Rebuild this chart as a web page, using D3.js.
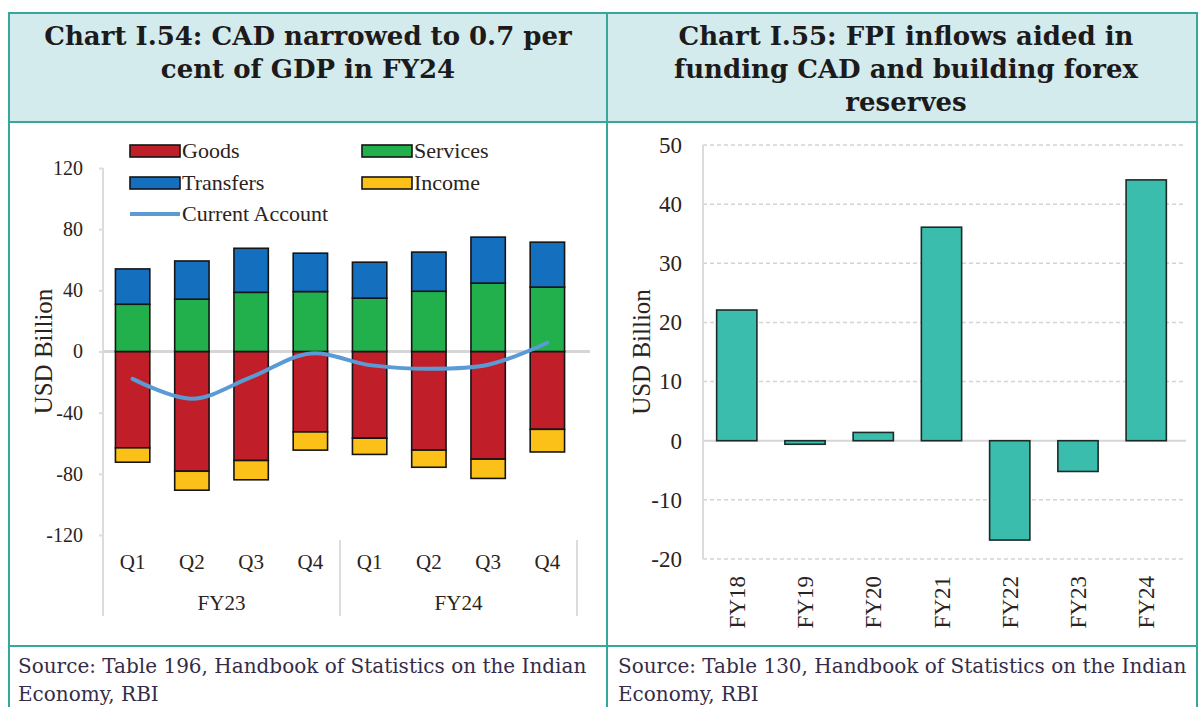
<!DOCTYPE html>
<html>
<head>
<meta charset="utf-8">
<script src="https://cdn.jsdelivr.net/npm/d3@7"></script>
<style>
  html, body { margin: 0; padding: 0; background: #fff; }
  svg { display: block; }
</style>
</head>
<body>
<svg id="chart" width="1198" height="707"></svg>
<script>
// ---- Chart I.54: current account components (USD billion) ----
const years = ["FY23", "FY24"];
const quarters = ["Q1", "Q2", "Q3", "Q4"];
const goods     = [-63.0, -78.3, -71.3, -52.6, -56.7, -64.5, -70.4, -50.9];
const services  = [ 30.9,  34.2,  38.7,  39.2,  34.9,  39.4,  44.7,  42.1];
const transfers = [ 23.1,  25.0,  28.8,  25.1,  23.5,  25.6,  30.1,  29.4];
const income    = [ -9.4, -12.4, -12.6, -11.9, -10.6, -11.2, -12.6, -14.8];
const currentAccount = [-17.9, -30.9, -16.8, -1.3, -8.9, -11.3, -8.7, 5.7];
const leftTicks = [120, 80, 40, 0, -40, -80, -120];

// ---- Chart I.55: net FPI flows (USD billion) ----
const fyears = ["FY18", "FY19", "FY20", "FY21", "FY22", "FY23", "FY24"];
const fpi = [22.1, -0.6, 1.4, 36.1, -16.8, -5.2, 44.1];
const rightTicks = [50, 40, 30, 20, 10, 0, -10, -20];

const svg = d3.select("#chart");
const teal = "#37a79c";
const headFill = "#d4ebee";
const serif = "'Liberation Serif', 'Times New Roman', serif";
const titleFont = "'DejaVu Serif', Georgia, serif";
const ink = "#2b2320";
const plain = d => String(d);   // keeps ASCII hyphen for negatives

// ---------- frame & headers ----------
svg.append("rect").attr("x", 9).attr("y", 13).attr("width", 1189).attr("height", 109)
  .attr("fill", headFill);
const frame = svg.append("g").attr("stroke", teal).attr("stroke-width", 2).attr("fill", "none");
frame.append("line").attr("x1", 8).attr("x2", 1198).attr("y1", 13).attr("y2", 13);
frame.append("line").attr("x1", 8).attr("x2", 1198).attr("y1", 122).attr("y2", 122);
frame.append("line").attr("x1", 8).attr("x2", 1198).attr("y1", 646).attr("y2", 646);
frame.append("line").attr("x1", 9).attr("x2", 9).attr("y1", 12).attr("y2", 707);
frame.append("line").attr("x1", 607).attr("x2", 607).attr("y1", 12).attr("y2", 707);
frame.append("line").attr("x1", 1197).attr("x2", 1197).attr("y1", 12).attr("y2", 707);

function title(lines, cx, y0) {
  const t = svg.append("text").attr("font-family", titleFont).attr("font-weight", "bold")
    .attr("font-size", 26).attr("fill", "#1c1a1a").attr("text-anchor", "middle");
  lines.forEach((l, i) => t.append("tspan").attr("x", cx).attr("y", y0 + i * 33).text(l));
}
title(["Chart I.54: CAD narrowed to 0.7 per", "cent of GDP in FY24"], 308, 45);
title(["Chart I.55: FPI inflows aided in", "funding CAD and building forex", "reserves"], 906, 45);

function source(x, num) {
  const t = svg.append("text").attr("font-family", titleFont).attr("font-size", 20)
    .attr("fill", "#342c48");
  t.append("tspan").attr("x", x).attr("y", 673).text(`Source: Table ${num}, Handbook of Statistics on the Indian`);
  t.append("tspan").attr("x", x).attr("y", 701).text("Economy, RBI");
}
source(18, 196);
source(618, 130);

// ---------- left chart ----------
const keysL = years.flatMap(y => quarters.map(q => `${y}-${q}`));
const rows = keysL.map((k, i) => ({
  key: k, Goods: goods[i], Services: services[i], Transfers: transfers[i], Income: income[i]
}));
const yL = d3.scaleLinear().domain([-120, 120]).range([535, 168]);
const xL = d3.scaleBand().domain(keysL).range([103, 577]).paddingInner(0.42).paddingOuter(0.21);
const colors = { Goods: "#c01f2a", Services: "#22b04c", Transfers: "#1470bf", Income: "#fcc118" };
const stack = d3.stack().keys(["Goods", "Services", "Transfers", "Income"])
  .offset(d3.stackOffsetDiverging)(rows);

const gL = svg.append("g");
// axis line and tick marks
gL.append("line").attr("x1", 103).attr("x2", 103).attr("y1", yL(120)).attr("y2", 616)
  .attr("stroke", "#dcdcdc").attr("stroke-width", 2);
const axL = gL.append("g").attr("transform", "translate(103,0)")
  .call(d3.axisLeft(yL).tickValues(leftTicks).tickSize(4).tickPadding(16).tickFormat(plain));
axL.select(".domain").remove();
axL.selectAll(".tick line").attr("stroke", "#dcdcdc").attr("stroke-width", 2);
axL.selectAll(".tick text").attr("font-family", serif).attr("font-size", 20).attr("fill", ink);

// zero line
gL.append("line").attr("x1", 103).attr("x2", 590).attr("y1", yL(0)).attr("y2", yL(0))
  .attr("stroke", "#d6d6d6").attr("stroke-width", 3);

// stacked bars
gL.append("g").selectAll("g").data(stack).join("g")
  .attr("fill", d => colors[d.key])
  .selectAll("rect").data(d => d).join("rect")
  .attr("x", d => xL(d.data.key))
  .attr("width", xL.bandwidth())
  .attr("y", d => yL(Math.max(d[0], d[1])))
  .attr("height", d => Math.abs(yL(d[0]) - yL(d[1])))
  .attr("stroke", "#151515").attr("stroke-width", 1.6);

// current account line
const line = d3.line().x((d, i) => xL(keysL[i]) + xL.bandwidth() / 2).y(d => yL(d))
  .curve(d3.curveCatmullRom.alpha(0.5));
gL.append("path").datum(currentAccount).attr("d", line).attr("fill", "none")
  .attr("stroke", "#5b9bd5").attr("stroke-width", 4).attr("stroke-linecap", "round")
  .attr("stroke-linejoin", "round");

// category labels: quarters and fiscal years
gL.append("g").selectAll("text").data(keysL).join("text")
  .attr("x", d => xL(d) + xL.bandwidth() / 2).attr("y", 569)
  .attr("text-anchor", "middle").attr("font-family", serif).attr("font-size", 21)
  .attr("fill", ink).text(d => d.split("-")[1]);
const groupEdges = [103, 340, 577];
gL.append("g").selectAll("line").data(groupEdges).join("line")
  .attr("x1", d => d).attr("x2", d => d).attr("y1", 540).attr("y2", 616)
  .attr("stroke", "#dcdcdc").attr("stroke-width", 2);
gL.append("g").selectAll("text").data(years).join("text")
  .attr("x", (d, i) => (groupEdges[i] + groupEdges[i + 1]) / 2).attr("y", 610)
  .attr("text-anchor", "middle").attr("font-family", serif).attr("font-size", 21)
  .attr("fill", ink).text(d => d);

gL.append("text").attr("transform", `translate(52,${yL(0)}) rotate(-90)`)
  .attr("text-anchor", "middle").attr("font-family", serif).attr("font-size", 25)
  .attr("fill", ink).text("USD Billion");

// legend
const legend = [
  { name: "Goods", x: 130, y: 151, type: "rect" },
  { name: "Services", x: 362, y: 151, type: "rect" },
  { name: "Transfers", x: 130, y: 183, type: "rect" },
  { name: "Income", x: 362, y: 183, type: "rect" },
  { name: "Current Account", x: 130, y: 214, type: "line" }
];
const lg = gL.append("g").selectAll("g").data(legend).join("g")
  .attr("transform", d => `translate(${d.x},${d.y})`);
lg.filter(d => d.type === "rect").append("rect").attr("x", 0).attr("y", -6).attr("width", 50)
  .attr("height", 12).attr("fill", d => colors[d.name]).attr("stroke", "#151515").attr("stroke-width", 1.6);
lg.filter(d => d.type === "line").append("line").attr("x1", 0).attr("x2", 50)
  .attr("stroke", "#5b9bd5").attr("stroke-width", 4);
lg.append("text").attr("x", 52).attr("y", 7).attr("font-family", serif).attr("font-size", 22)
  .attr("fill", ink).text(d => d.name);

// ---------- right chart ----------
const yR = d3.scaleLinear().domain([-20, 50]).range([559, 145]);
const xR = d3.scaleBand().domain(fyears).range([703, 1180]).paddingInner(0.41).paddingOuter(0.2);
const gR = svg.append("g");

gR.append("g").selectAll("line").data(rightTicks.filter(d => d !== 0)).join("line")
  .attr("x1", 703).attr("x2", 1186).attr("y1", d => yR(d)).attr("y2", d => yR(d))
  .attr("stroke", "#d4d4d4").attr("stroke-width", 1.5).attr("stroke-dasharray", "4,3");
gR.append("line").attr("x1", 703).attr("x2", 1186).attr("y1", yR(0)).attr("y2", yR(0))
  .attr("stroke", "#d6d6d6").attr("stroke-width", 2);
gR.append("line").attr("x1", 703).attr("x2", 703).attr("y1", yR(50)).attr("y2", yR(-20))
  .attr("stroke", "#dcdcdc").attr("stroke-width", 2);

const axR = gR.append("g").attr("transform", "translate(703,0)")
  .call(d3.axisLeft(yR).tickValues(rightTicks).tickSize(0).tickPadding(21).tickFormat(plain));
axR.select(".domain").remove();
axR.selectAll(".tick text").attr("font-family", serif).attr("font-size", 23).attr("fill", ink);

gR.append("g").selectAll("rect").data(fpi).join("rect")
  .attr("x", (d, i) => xR(fyears[i])).attr("width", xR.bandwidth())
  .attr("y", d => yR(Math.max(0, d))).attr("height", d => Math.abs(yR(d) - yR(0)))
  .attr("fill", "#3bbdad").attr("stroke", "#1d2b28").attr("stroke-width", 1.6);

gR.append("g").selectAll("text").data(fyears).join("text")
  .attr("transform", d => `translate(${xR(d) + xR.bandwidth() / 2 + 8},576) rotate(-90)`)
  .attr("text-anchor", "end").attr("font-family", serif).attr("font-size", 23)
  .attr("fill", ink).text(d => d);

gR.append("text").attr("transform", `translate(650,${yR(15)}) rotate(-90)`)
  .attr("text-anchor", "middle").attr("font-family", serif).attr("font-size", 25)
  .attr("fill", ink).text("USD Billion");
</script>
</body>
</html>
